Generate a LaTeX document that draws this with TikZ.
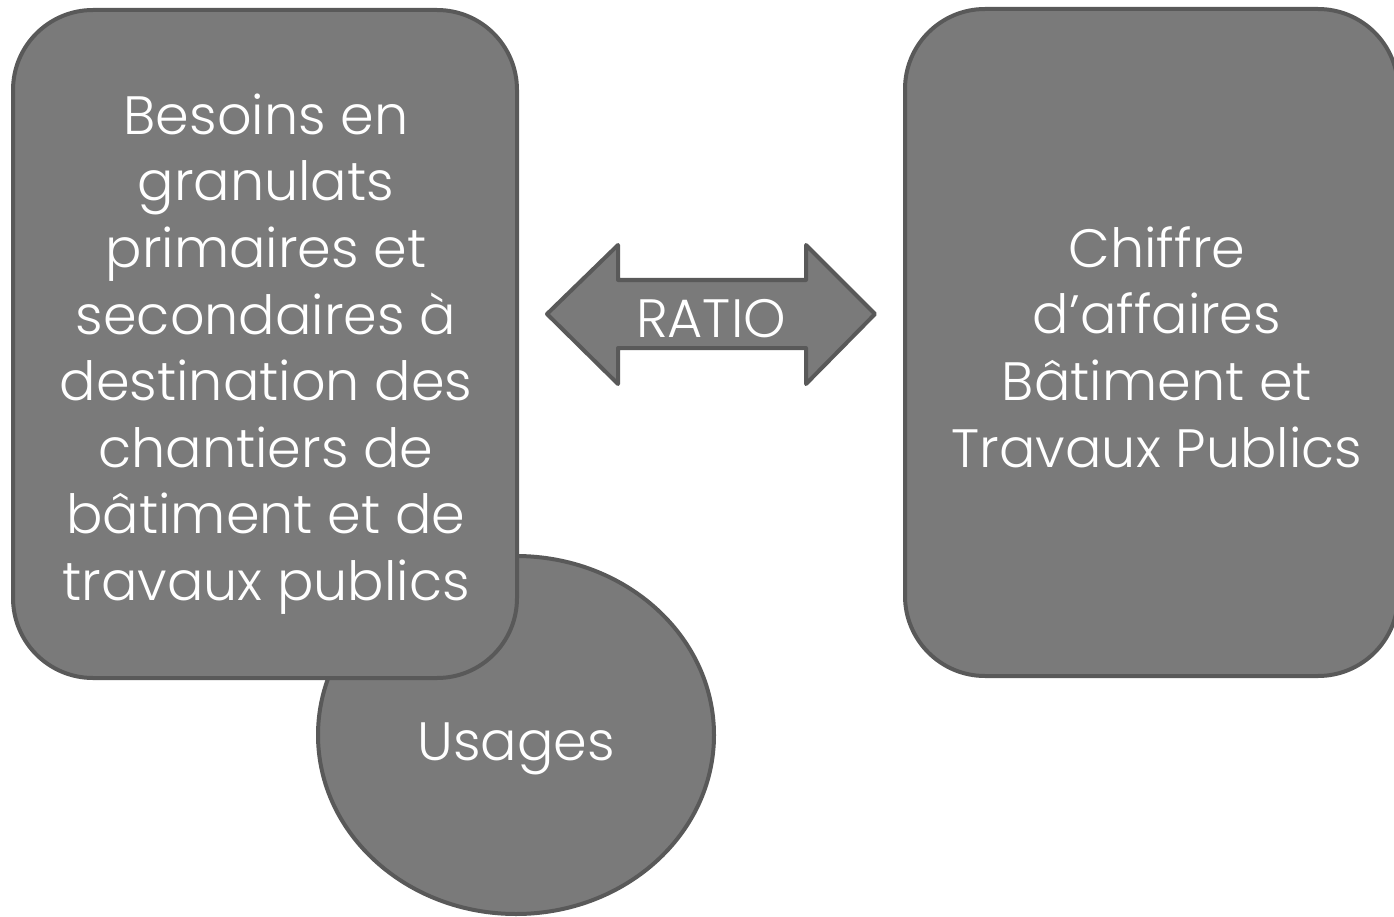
\documentclass[tikz,border=0pt]{standalone}
\usepackage{fontspec}
\setmainfont{Poppins}[UprightFont={* Light}]
\definecolor{boxfill}{HTML}{7A7A7A}
\definecolor{boxline}{HTML}{595959}
\begin{document}
\begin{tikzpicture}[x=1pt,y=-1pt,
  shapebox/.style={fill=boxfill,draw=boxline,line width=4pt},
  lbl/.style={text=white,font=\fontsize{54}{66.6}\selectfont,align=center,inner sep=0pt}]
\useasboundingbox (0,0) rectangle (1394,917);
\draw[shapebox] (516,735) ellipse [x radius=198, y radius=179];
\draw[shapebox,rounded corners=80pt] (13,10) rectangle (517,678);
\draw[shapebox,rounded corners=80pt] (905,9) rectangle (1398,676);
\draw[shapebox,line join=round] (547,314) -- (618,245) -- (618,280) -- (806,280) -- (806,245) -- (875,314) -- (806,384) -- (806,348) -- (618,348) -- (618,384) -- cycle;
\node[lbl] (besoins) at (266,354) {Besoins en\\granulats\\primaires et\\secondaires à\\destination des\\chantiers de\\bâtiment et de\\travaux publics};
\node[lbl] (chiffre) at (1157,347) {Chiffre\\d’affaires\\Bâtiment et\\Travaux Publics};
\node[lbl] (ratio) at (711,319) {RATIO};
\node[lbl] (usages) at (516,749) {Usages};
\end{tikzpicture}
\end{document}
